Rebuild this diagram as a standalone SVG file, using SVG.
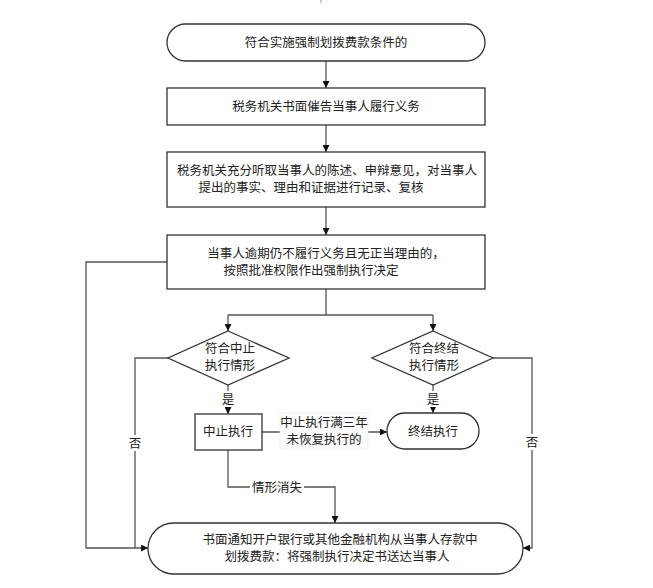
<svg xmlns="http://www.w3.org/2000/svg" width="653" height="588" viewBox="0 0 653 588">
<defs>
<marker id="arr" viewBox="0 0 10 10" refX="10" refY="5" markerWidth="7" markerHeight="7" markerUnits="userSpaceOnUse" orient="auto">
<path d="M0,0 L10,5 L0,10 z" fill="#111"/>
</marker>
<style>
.node{fill:#fff;stroke:#333;stroke-width:1.3}
.t{font-family:"Liberation Serif","Noto Sans CJK SC",serif;font-size:12.5px;fill:#222;text-anchor:middle}
.c{fill:none;stroke:#555;stroke-width:1.3}
.lb{fill:#fff}
</style>
</defs>
<rect width="653" height="588" fill="#fff"/>
<path d="M321,0 L321,3" stroke="#999" stroke-width="1"/>
<g id="connectors">
<path class="c" d="M326,61 L326,88" marker-end="url(#arr)"/>
<path class="c" d="M326,125 L326,152" marker-end="url(#arr)"/>
<path class="c" d="M326,207 L326,235" marker-end="url(#arr)"/>
<path class="c" d="M326,289 L326,315 M228,315 L433,315"/>
<path class="c" d="M228,315 L228,331" marker-end="url(#arr)"/>
<path class="c" d="M433,315 L433,331" marker-end="url(#arr)"/>
<path class="c" d="M228,385 L228,414" marker-end="url(#arr)"/>
<path class="c" d="M433,385 L433,413" marker-end="url(#arr)"/>
<path class="c" d="M262,432 L387,432" marker-end="url(#arr)"/>
<path class="c" d="M228,450 L228,487 L335,487 L335,523" marker-end="url(#arr)"/>
<path class="c" d="M167,262 L86,262 L86,548 L148,548" marker-end="url(#arr)"/>
<path class="c" d="M168,358 L135,358 L135,548"/>
<path class="c" d="M493,358 L532,358 L532,548 L523,548" marker-end="url(#arr)"/>
<rect class="lb" x="220" y="391" width="16" height="16"/>
<text class="t" x="228" y="404">是</text>
<rect class="lb" x="425" y="391" width="16" height="16"/>
<text class="t" x="433" y="404">是</text>
<rect class="lb" x="127" y="435" width="16" height="16"/>
<text class="t" x="135" y="448">否</text>
<rect class="lb" x="524" y="434" width="16" height="16"/>
<text class="t" x="532" y="447">否</text>
<rect x="280" y="413" width="88" height="36" fill="#fcfcfc" stroke="#eee" stroke-width="0.8"/>
<text class="t"><tspan x="324" y="427">中止执行满三年</tspan><tspan x="324" y="444">未恢复执行的</tspan></text>
<rect class="lb" x="250" y="479" width="54" height="16"/>
<text class="t" x="277" y="492">情形消失</text>
</g>
<g id="start">
<rect class="node" x="167" y="24" width="318" height="37" rx="18.5"/>
<text class="t" x="326" y="47">符合实施强制划拨费款条件的</text>
</g>
<g id="urge">
<rect class="node" x="167" y="88" width="318" height="37"/>
<text class="t" x="326" y="111">税务机关书面催告当事人履行义务</text>
</g>
<g id="hear">
<rect class="node" x="167" y="152" width="318" height="55"/>
<text class="t"><tspan x="327" y="175">税务机关充分听取当事人的陈述、申辩意见，对当事人</tspan><tspan x="311" y="192">提出的事实、理由和证据进行记录、复核</tspan></text>
</g>
<g id="decide">
<rect class="node" x="167" y="235" width="318" height="54"/>
<text class="t"><tspan x="326" y="258">当事人逾期仍不履行义务且无正当理由的，</tspan><tspan x="311" y="275">按照批准权限作出强制执行决定</tspan></text>
</g>
<g id="d-suspend">
<polygon class="node" points="228,331 289,358 228,385 168,358"/>
<text class="t"><tspan x="230" y="353">符合中止</tspan><tspan x="230" y="370">执行情形</tspan></text>
</g>
<g id="d-terminate">
<polygon class="node" points="433,331 493,358 433,385 372,358"/>
<text class="t"><tspan x="434" y="353">符合终结</tspan><tspan x="434" y="370">执行情形</tspan></text>
</g>
<g id="suspend">
<rect class="node" x="195" y="414" width="67" height="36"/>
<text class="t" x="228" y="436">中止执行</text>
</g>
<g id="terminate">
<rect class="node" x="387" y="413" width="92" height="36" rx="18"/>
<text class="t" x="433" y="436">终结执行</text>
</g>
<g id="notify">
<rect class="node" x="148" y="523" width="375" height="51" rx="25.5"/>
<text class="t"><tspan x="340" y="544">书面通知开户银行或其他金融机构从当事人存款中</tspan><tspan x="337" y="561">划拨费款：将强制执行决定书送达当事人</tspan></text>
</g>
</svg>
